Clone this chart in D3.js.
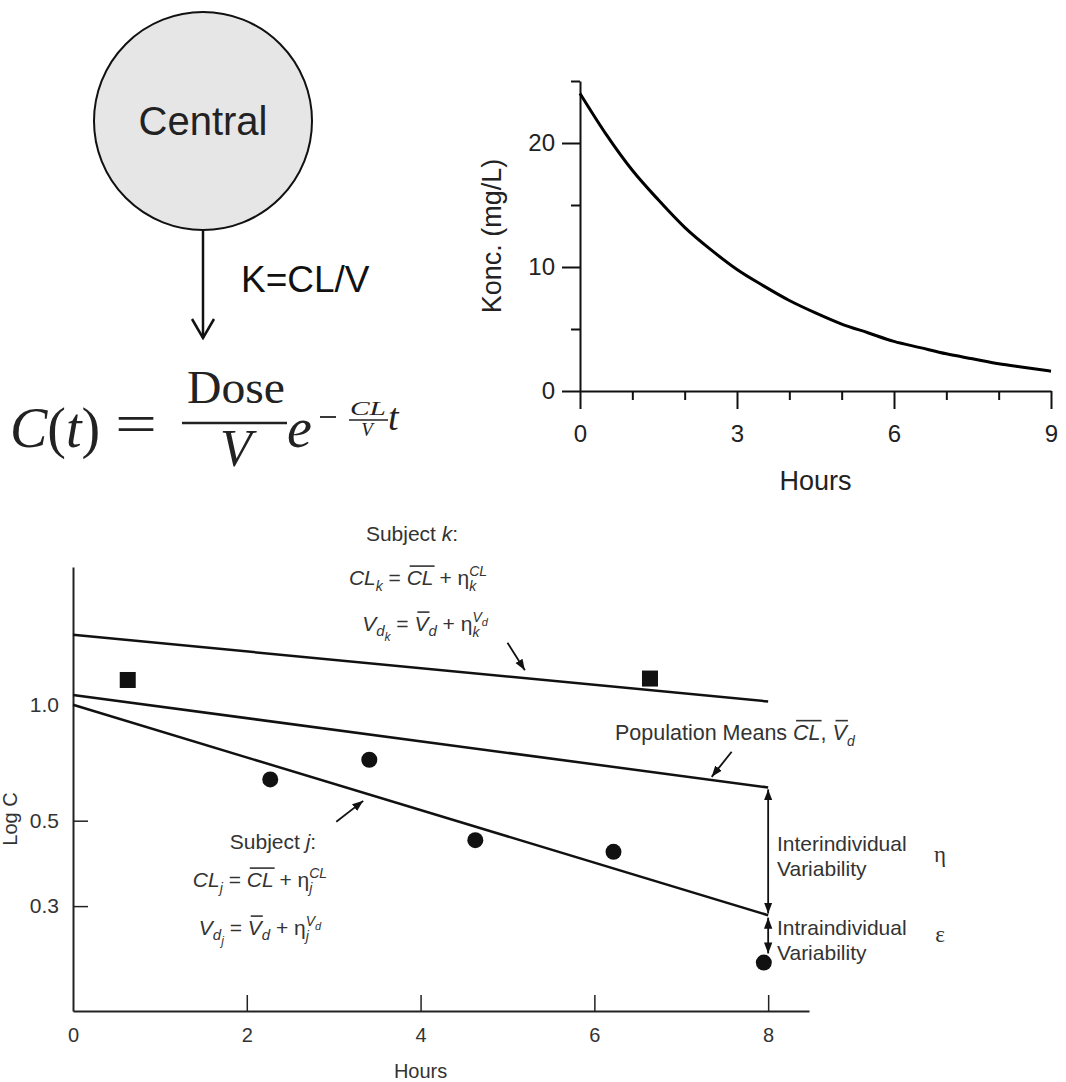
<!DOCTYPE html>
<html><head><meta charset="utf-8">
<script src="https://cdn.jsdelivr.net/npm/d3@7"></script>
<style>body{margin:0;background:#fff}svg{display:block}</style>
</head><body><svg id="c" width="1066" height="1082"></svg>
<script>
// ---------- DATA ----------
// Top-right: one-compartment concentration curve
const concHours  = [0,0.5,1,1.5,2,2.5,3,3.5,4,4.5,5,5.5,6,6.5,7,7.5,8,8.5,9];
const concValues = [24.0,20.7,17.8,15.4,13.2,11.4,9.8,8.5,7.3,6.3,5.4,4.7,4.0,3.5,3.0,2.6,2.2,1.9,1.6];
const concXTicks = [0,3,6,9];
const concXMinor = [1,2,4,5,7,8];
const concYTicks = [0,10,20];
const concYMinor = [5,15,25];

// Bottom: population PK schematic (log scale)
const lineHours      = [0, 8];
const subjectKLine   = [1.52, 1.02];
const populationLine = [1.06, 0.61];
const subjectJLine   = [1.00, 0.284];
const subjectKHours  = [0.63, 6.64];
const subjectKConc   = [1.16, 1.17];
const subjectJHours  = [2.27, 3.41, 4.63, 6.22, 7.95];
const subjectJConc   = [0.64, 0.72, 0.445, 0.415, 0.214];
const logXTicks = [0,2,4,6,8];
const logYTicks = [1.0,0.5,0.3];

// ---------- SETUP ----------
const svg = d3.select('#c');
const SANS = "'Liberation Sans', Arial, Helvetica, sans-serif";
const SERIF = "'Liberation Serif', 'Times New Roman', serif";
const defs = svg.append('defs');
defs.append('marker').attr('id','tri').attr('viewBox','0 0 10 10')
  .attr('refX',10).attr('refY',5).attr('markerWidth',11).attr('markerHeight',11)
  .attr('markerUnits','userSpaceOnUse').attr('orient','auto-start-reverse')
  .append('path').attr('d','M0,1.2L10,5L0,8.8Z').attr('fill','#111');
defs.append('marker').attr('id','chev').attr('viewBox','0 0 22 26')
  .attr('refX',20).attr('refY',13).attr('markerWidth',22).attr('markerHeight',26)
  .attr('markerUnits','userSpaceOnUse').attr('orient','auto')
  .append('path').attr('d','M1,2L20,13L1,24').attr('fill','none').attr('stroke','#111')
  .attr('stroke-width',2.5).attr('stroke-linejoin','miter');

function rich(x, y, segs, o = {}) {
  const g = svg.append('g');
  const base = o.size || 21, fam = o.family || SANS, col = o.color || '#333';
  let cx = 0; const bars = [];
  function put(s, px) {
    const t = g.append('text').attr('x', px).attr('y', s.dy || 0)
      .attr('font-family', s.family || fam).attr('font-size', s.size || base)
      .attr('font-style', s.it ? 'italic' : 'normal').attr('fill', col).text(s.t);
    return t.node().getComputedTextLength();
  }
  segs.forEach(s => {
    if (s.stack) {
      let w = 0;
      s.stack.forEach(row => { let rx = cx; row.forEach(r => { rx += put(r, rx); }); w = Math.max(w, rx - cx); });
      cx += w;
    } else {
      const w = put(s, cx);
      if (s.bar) bars.push([cx + 3, cx + w + 1, (s.dy || 0) - (s.size || base) * 0.9]);
      cx += w;
    }
  });
  bars.forEach(b => g.append('line').attr('x1', b[0]).attr('x2', b[1]).attr('y1', b[2]).attr('y2', b[2])
    .attr('stroke', col).attr('stroke-width', 1.6));
  const dx = o.anchor === 'middle' ? -cx / 2 : 0;
  g.attr('transform', `translate(${x + dx},${y})`);
  return g;
}

// ---------- TOP LEFT: compartment diagram ----------
svg.append('circle').attr('cx',203).attr('cy',121).attr('r',109)
  .attr('fill','#e6e6e6').attr('stroke','#111').attr('stroke-width',2);
svg.append('text').attr('x',203).attr('y',135).attr('text-anchor','middle')
  .attr('font-family',SANS).attr('font-size',40).attr('fill','#222').text('Central');
svg.append('line').attr('x1',203).attr('y1',230).attr('x2',203).attr('y2',338)
  .attr('stroke','#111').attr('stroke-width',2.5).attr('marker-end','url(#chev)');
svg.append('text').attr('x',241).attr('y',292).attr('font-family',SANS).attr('font-size',37)
  .attr('fill','#111').text('K=CL/V');

// formula
const fm = svg.append('g').attr('fill','#222').attr('font-family',SERIF);
const ct = fm.append('text').attr('x',10).attr('y',447).attr('font-size',56);
ct.append('tspan').attr('font-style','italic').text('C');
ct.append('tspan').text('(');
ct.append('tspan').attr('font-style','italic').text('t');
ct.append('tspan').text(')');
fm.append('text').attr('x',115).attr('y',443).attr('font-size',56).attr('textLength',42)
  .attr('lengthAdjust','spacingAndGlyphs').text('=');
fm.append('text').attr('x',236).attr('y',403).attr('font-size',46).attr('text-anchor','middle')
  .attr('textLength',98).attr('lengthAdjust','spacingAndGlyphs').text('Dose');
fm.append('line').attr('x1',182).attr('x2',287).attr('y1',423).attr('y2',423).attr('stroke','#222').attr('stroke-width',2.5);
fm.append('text').attr('x',236).attr('y',466).attr('font-size',52).attr('font-style','italic').attr('text-anchor','middle').text('V');
fm.append('text').attr('x',287).attr('y',447).attr('font-size',56).attr('font-style','italic').text('e');
fm.append('line').attr('x1',320).attr('x2',336).attr('y1',417).attr('y2',417).attr('stroke','#222').attr('stroke-width',1.8);
fm.append('text').attr('x',350).attr('y',415).attr('font-size',19).attr('font-style','italic')
  .attr('textLength',36).attr('lengthAdjust','spacingAndGlyphs').text('CL');
fm.append('line').attr('x1',349).attr('x2',388).attr('y1',420).attr('y2',420).attr('stroke','#222').attr('stroke-width',1.5);
fm.append('text').attr('x',367).attr('y',436).attr('font-size',19).attr('font-style','italic').attr('text-anchor','middle').text('V');
fm.append('text').attr('x',388).attr('y',430).attr('font-size',38).attr('font-style','italic').text('t');

// ---------- TOP RIGHT: concentration curve ----------
const tx = d3.scaleLinear().domain([0,9]).range([580,1051]);
const ty = d3.scaleLinear().domain([0,25]).range([391,81]);
const tg = svg.append('g');
function styleAxis(g, fs) {
  g.selectAll('path.domain').attr('stroke','#111').attr('stroke-width',2);
  g.selectAll('.tick line').attr('stroke','#111').attr('stroke-width',2);
  g.selectAll('text').attr('font-family',SANS).attr('font-size',fs).attr('fill','#222');
}
const txMinor = tg.append('g').attr('transform','translate(0,391)')
  .call(d3.axisBottom(tx).tickValues(concXMinor).tickSize(9).tickFormat('').tickSizeOuter(0));
txMinor.select('.domain').remove(); styleAxis(txMinor,24);
const tyMinor = tg.append('g').attr('transform','translate(580,0)')
  .call(d3.axisLeft(ty).tickValues(concYMinor).tickSize(9).tickFormat('').tickSizeOuter(0));
tyMinor.select('.domain').remove(); styleAxis(tyMinor,24);
const txMajor = tg.append('g').attr('transform','translate(0,391)')
  .call(d3.axisBottom(tx).tickValues(concXTicks).tickSize(18).tickPadding(16).tickSizeOuter(0));
styleAxis(txMajor,24);
const tyMajor = tg.append('g').attr('transform','translate(580,0)')
  .call(d3.axisLeft(ty).tickValues(concYTicks).tickSize(18).tickPadding(7).tickSizeOuter(0));
styleAxis(tyMajor,24);
tg.append('path').datum(concHours.map((h,i)=>[h,concValues[i]]))
  .attr('d', d3.line().x(d=>tx(d[0])).y(d=>ty(d[1])).curve(d3.curveMonotoneX))
  .attr('fill','none').attr('stroke','#000').attr('stroke-width',3);
tg.append('text').attr('x',(tx(0)+tx(9))/2).attr('y',490).attr('text-anchor','middle')
  .attr('font-family',SANS).attr('font-size',27).attr('fill','#222').text('Hours');
tg.append('text').attr('transform',`translate(501,${(ty(0)+ty(25))/2}) rotate(-90)`).attr('text-anchor','middle')
  .attr('font-family',SANS).attr('font-size',27).attr('fill','#222').text('Konc. (mg/L)');

// ---------- BOTTOM: population schematic ----------
const bx = d3.scaleLinear().domain([0,8.47]).range([73,809]);
const by = d3.scaleLog().domain([0.1602,2.28]).range([1011,567]);
const bg = svg.append('g');
function styleB(g) {
  g.selectAll('path.domain').attr('stroke','#222').attr('stroke-width',2);
  g.selectAll('.tick line').attr('stroke','#222').attr('stroke-width',1.5);
  g.selectAll('text').attr('font-family',SANS).attr('font-size',20).attr('fill','#333');
}
const bxa = bg.append('g').attr('transform','translate(0,1011)')
  .call(d3.axisBottom(bx).tickValues(logXTicks).tickSizeInner(-16).tickSizeOuter(0).tickPadding(17).tickFormat(d3.format('d')));
styleB(bxa);
bxa.selectAll('.tick').filter(d=>d===0).select('line').remove();
const bya = bg.append('g').attr('transform',`translate(${bx(0)},0)`)
  .call(d3.axisLeft(by).tickValues(logYTicks).tickSizeInner(-15).tickSizeOuter(0).tickPadding(14).tickFormat(d3.format('.1f')));
styleB(bya);
bya.selectAll('text').attr('font-size',21);
bya.selectAll('.tick').filter(d=>d===1).select('line').remove();

const bline = d3.line().x(d=>bx(d[0])).y(d=>by(d[1]));
[subjectKLine, populationLine, subjectJLine].forEach(vals => {
  bg.append('path').datum(lineHours.map((h,i)=>[h,vals[i]])).attr('d',bline)
    .attr('fill','none').attr('stroke','#111').attr('stroke-width',2.5);
});
bg.selectAll('rect.sq').data(subjectKHours.map((h,i)=>[h,subjectKConc[i]])).join('rect').attr('class','sq')
  .attr('x',d=>bx(d[0])-8).attr('y',d=>by(d[1])-8).attr('width',16).attr('height',16).attr('fill','#111');
bg.selectAll('circle.pt').data(subjectJHours.map((h,i)=>[h,subjectJConc[i]])).join('circle').attr('class','pt')
  .attr('cx',d=>bx(d[0])).attr('cy',d=>by(d[1])).attr('r',8).attr('fill','#111');

// annotation arrows (data space)
function arrow(h1,c1,h2,c2,both){
  const l = bg.append('line').attr('x1',bx(h1)).attr('y1',by(c1)).attr('x2',bx(h2)).attr('y2',by(c2))
    .attr('stroke','#111').attr('stroke-width',1.8).attr('marker-end','url(#tri)');
  if (both) l.attr('marker-start','url(#tri)');
}
arrow(5.0,1.45,5.2,1.23);
arrow(7.58,0.755,7.35,0.65);
arrow(3.03,0.497,3.34,0.563);
arrow(8, 0.603, 8, 0.287, true);
arrow(8, 0.280, 8, 0.226, true);

// axis titles
bg.append('text').attr('x',(bx(0)+bx(8))/2).attr('y',1078).attr('text-anchor','middle')
  .attr('font-family',SANS).attr('font-size',20).attr('fill','#333').text('Hours');
bg.append('text').attr('transform','translate(17,819) rotate(-90)').attr('text-anchor','middle')
  .attr('font-family',SANS).attr('font-size',20).attr('fill','#333').text('Log C');

// subject k text
const S14 = 14;
rich(412, 541, [{t:'Subject\u00A0'},{t:'k',it:1},{t:':'}], {anchor:'middle'});
rich(418, 585, [{t:'CL',it:1},{t:'k',it:1,size:S14,dy:6},{t:'\u00A0=\u00A0'},{t:'CL',it:1,bar:1},{t:'\u00A0+\u00A0'},{t:'\u03B7'},
  {stack:[[{t:'CL',it:1,size:S14,dy:-9}],[{t:'k',it:1,size:S14,dy:6}]]}], {anchor:'middle'});
rich(425, 631, [{t:'V',it:1},{t:'d',it:1,size:15,dy:5},{t:'k',it:1,size:12,dy:10},{t:'\u00A0=\u00A0'},{t:'V',it:1,bar:1},{t:'d',it:1,size:15,dy:5},{t:'\u00A0+\u00A0'},{t:'\u03B7'},
  {stack:[[{t:'V',it:1,size:S14,dy:-9},{t:'d',it:1,size:11,dy:-5}],[{t:'k',it:1,size:S14,dy:6}]]}], {anchor:'middle'});

// subject j text
rich(273, 849, [{t:'Subject\u00A0'},{t:'j',it:1},{t:':'}], {anchor:'middle'});
rich(260, 887, [{t:'CL',it:1},{t:'j',it:1,size:S14,dy:6},{t:'\u00A0=\u00A0'},{t:'CL',it:1,bar:1},{t:'\u00A0+\u00A0'},{t:'\u03B7'},
  {stack:[[{t:'CL',it:1,size:S14,dy:-9}],[{t:'j',it:1,size:S14,dy:6}]]}], {anchor:'middle'});
rich(260, 935, [{t:'V',it:1},{t:'d',it:1,size:15,dy:5},{t:'j',it:1,size:12,dy:10},{t:'\u00A0=\u00A0'},{t:'V',it:1,bar:1},{t:'d',it:1,size:15,dy:5},{t:'\u00A0+\u00A0'},{t:'\u03B7'},
  {stack:[[{t:'V',it:1,size:S14,dy:-9},{t:'d',it:1,size:11,dy:-5}],[{t:'j',it:1,size:S14,dy:6}]]}], {anchor:'middle'});

// population means
rich(615, 740, [{t:'Population Means\u00A0'},{t:'CL',it:1,bar:1},{t:',\u00A0'},{t:'V',it:1,bar:1},{t:'d',it:1,size:14,dy:6}], {size:21.5});

// variability labels
[['Interindividual',851],['Variability',876],['Intraindividual',935],['Variability',960]].forEach(([t,y])=>{
  bg.append('text').attr('x',777).attr('y',y).attr('font-family',SANS).attr('font-size',21).attr('fill','#333').text(t);
});
bg.append('text').attr('x',940).attr('y',862).attr('text-anchor','middle').attr('font-family',SERIF).attr('font-size',23).attr('fill','#333').text('\u03B7');
bg.append('text').attr('x',940).attr('y',942).attr('text-anchor','middle').attr('font-family',SERIF).attr('font-size',23).attr('fill','#333').text('\u03B5');
</script></body></html>
